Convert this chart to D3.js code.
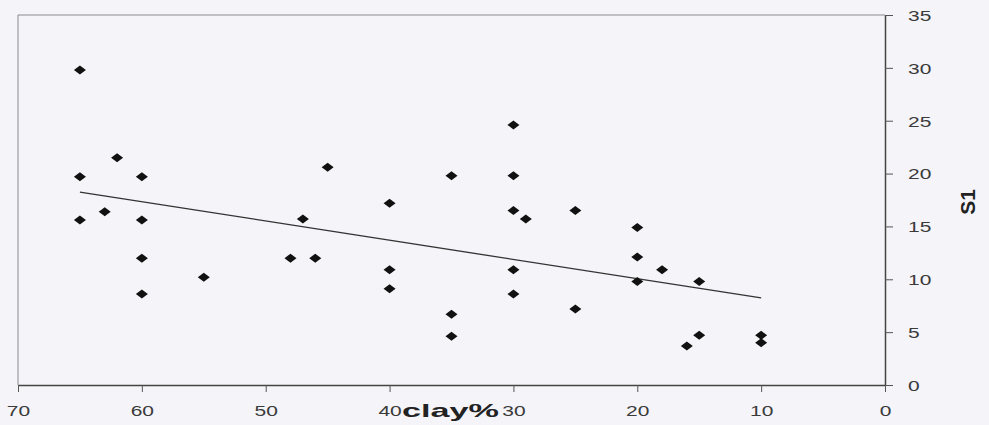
<!DOCTYPE html>
<html>
<head>
<meta charset="utf-8">
<script src="https://cdn.jsdelivr.net/npm/d3@7"></script>
<style>
  body { margin: 0; background: #f4f4f9; }
  svg { display: block; font-family: "Liberation Sans", Arial, sans-serif; }
</style>
</head>
<body>
<div id="chart"></div>
<script>
// clay% vs S1
const clay = [65, 65, 65, 62, 63, 60, 60, 60, 60, 55, 48, 46, 47, 45, 40, 40, 40, 35, 35, 35,
              30, 30, 30, 29, 30, 30, 25, 25, 20, 20, 20, 18, 15, 16, 15, 10, 10];
const s1 = [29.8, 19.7, 15.6, 21.5, 16.4, 19.7, 15.6, 12.0, 8.6, 10.2, 12.0, 12.0, 15.7, 20.6,
            17.2, 10.9, 9.1, 19.8, 6.7, 4.6, 24.6, 19.8, 16.5, 15.7, 10.9, 8.6, 16.5, 7.2,
            14.9, 12.1, 9.8, 10.9, 9.8, 3.7, 4.7, 4.7, 4.0];
const xTicks = [70, 60, 50, 40, 30, 20, 10, 0];
const yTicks = [0, 5, 10, 15, 20, 25, 30, 35];

const width = 989, height = 425;
const svg = d3.select("#chart").append("svg")
    .attr("width", width)
    .attr("height", height);

const x = d3.scaleLinear().domain([70, 0]).range([18, 885]);
const y = d3.scaleLinear().domain([0, 35]).range([385, 15]);

// frame (top + left)
svg.append("path")
    .attr("d", `M${x(0)},${y(35)}H${x(70)}V${y(0)}`)
    .attr("fill", "none")
    .attr("stroke", "#8a8a90")
    .attr("stroke-width", 1);

// x axis
const gx = svg.append("g")
    .attr("transform", `translate(0,${y(0)})`)
    .call(d3.axisBottom(x).tickValues(xTicks).tickSize(7).tickSizeOuter(0));
gx.select(".domain").attr("stroke", "#444").attr("stroke-width", 1.5);
gx.selectAll(".tick line").attr("stroke", "#555");
gx.selectAll(".tick text")
    .attr("y", 31).attr("dy", 0)
    .attr("font-size", 15)
    .attr("fill", "#3a3a3a")
    .attr("transform", "scale(1.4,1)");

// y axis on the right
const gy = svg.append("g")
    .attr("transform", `translate(${x(0)},0)`)
    .call(d3.axisRight(y).tickValues(yTicks).tickSize(8).tickSizeOuter(0));
gy.select(".domain").attr("stroke", "#444").attr("stroke-width", 1.5);
gy.selectAll(".tick line").attr("stroke", "#555");
gy.selectAll(".tick text")
    .attr("x", 16.5).attr("dy", "0.36em")
    .attr("font-size", 15)
    .attr("fill", "#3a3a3a")
    .attr("text-anchor", "start")
    .attr("transform", "scale(1.4,1)");

// linear trend (least squares)
const mx = d3.mean(clay), my = d3.mean(s1);
const slope = d3.sum(clay, (c, i) => (c - mx) * (s1[i] - my)) / d3.sum(clay, c => (c - mx) ** 2);
const icpt = my - slope * mx;
const [x0, x1] = d3.extent(clay);
svg.append("line")
    .attr("x1", x(x0)).attr("y1", y(icpt + slope * x0))
    .attr("x2", x(x1)).attr("y2", y(icpt + slope * x1))
    .attr("stroke", "#333")
    .attr("stroke-width", 1.3);

// diamonds
const diamond = "M-6,0L0,-4.5L6,0L0,4.5Z";
svg.append("g")
    .selectAll("path")
    .data(clay.map((c, i) => ({c, v: s1[i]})))
    .join("path")
    .attr("d", diamond)
    .attr("transform", d => `translate(${x(d.c)},${y(d.v)})`)
    .attr("fill", "#111");

// axis titles
svg.append("text")
    .attr("x", 402).attr("y", 417)
    .attr("font-size", 19)
    .attr("font-weight", "bold")
    .attr("fill", "#222")
    .attr("textLength", 97)
    .attr("lengthAdjust", "spacingAndGlyphs")
    .text("clay%");

svg.append("text")
    .attr("transform", "translate(975,202) rotate(-90)")
    .attr("text-anchor", "middle")
    .attr("font-size", 21)
    .attr("font-weight", "bold")
    .attr("fill", "#222")
    .text("S1");
</script>
</body>
</html>
